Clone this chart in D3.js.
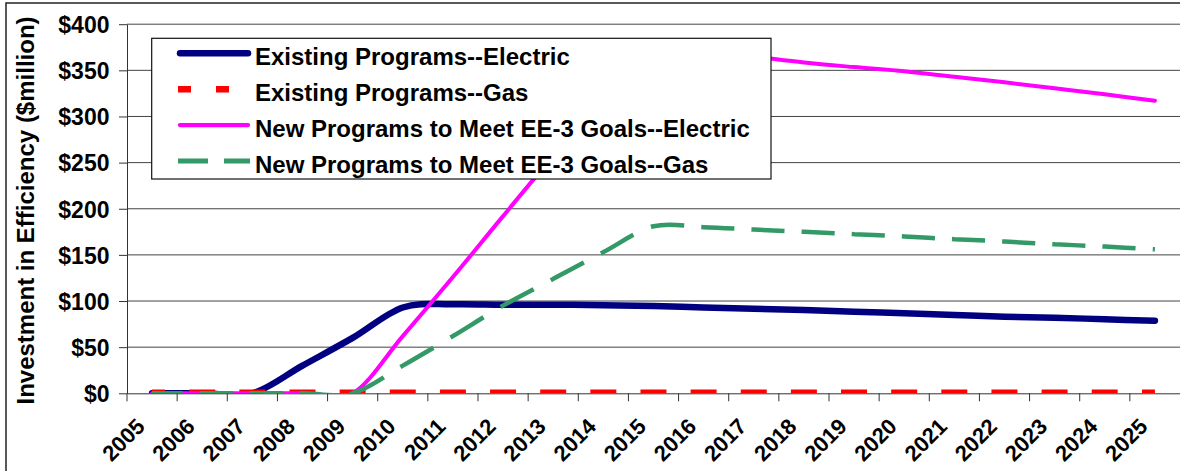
<!DOCTYPE html>
<html><head><meta charset="utf-8">
<script src="https://cdn.jsdelivr.net/npm/d3@7"></script>
<style>
html,body{margin:0;padding:0;background:#fff;}
svg{display:block;font-family:"Liberation Sans",Arial,sans-serif;font-weight:bold;}
</style></head><body>
<svg id="chart" width="1180" height="471"></svg>
<script>
const years = ["2005","2006","2007","2008","2009","2010","2011","2012","2013","2014","2015","2016","2017","2018","2019","2020","2021","2022","2023","2024","2025"];
const existingElectric = [0,0,0,30,60,93,96.5,96,96,95.5,94.5,93,91.7,90.2,88.4,86.7,84.8,83,82,80.2,78.7];
const existingGas = [1.8,1.8,1.8,1.8,1.8,1.8,1.8,1.8,1.8,1.8,1.8,1.8,1.8,1.8,1.8,1.8,1.8,1.8,1.8,1.8,1.8];
const newElectric = [0,0,0,0,0,62,126,192,257,318,372,371,365,358.5,353.5,349,343,337,330.5,324,317];
const newGas = [0,0,0,0,0,30,62,95,124,153,181,180,177.5,175,172.5,170,167,164.5,161.5,159,156];
const yTicks = [0,50,100,150,200,250,300,350,400];
const seriesNames = ["Existing Programs--Electric","Existing Programs--Gas","New Programs to Meet EE-3 Goals--Electric","New Programs to Meet EE-3 Goals--Gas"];
const seriesColors = ["#000080","#ff0000","#ff00ff","#339966"];
const yTitle = "Investment in Efficiency ($million)";

const W = 1180, H = 471;
const svg = d3.select("#chart");
svg.append("rect").attr("width", W).attr("height", H).attr("fill", "#fff");
svg.append("rect").attr("x", 6).attr("y", 3).attr("width", W).attr("height", H)
  .attr("fill", "none").attr("stroke", "#222").attr("stroke-width", 1.5);

const x = d3.scaleBand().domain(years).range([127, 1180]).padding(0);
const y = d3.scaleLinear().domain([0, 400]).range([393.3, 24.2]);
const cx = d => x(d) + x.bandwidth() / 2;
const [x0, x1] = x.range();

// gridlines
svg.append("g").selectAll("line").data(yTicks.filter(v => v > 0)).join("line")
  .attr("x1", x0).attr("x2", x1).attr("y1", d => y(d)).attr("y2", d => y(d))
  .attr("stroke", "#444").attr("stroke-width", 1);

// y axis
const yAxis = svg.append("g").attr("transform", `translate(${x0},0)`)
  .call(d3.axisLeft(y).tickValues(yTicks).tickSize(8).tickSizeOuter(0).tickPadding(9.5).tickFormat(d => "$" + d));
yAxis.select(".domain").attr("stroke", "#333");
yAxis.selectAll(".tick line").attr("stroke", "#333");
yAxis.selectAll("text").attr("font-size", 23).attr("font-family", "Liberation Sans, Arial, sans-serif")
  .attr("font-weight", "bold").attr("fill", "#000").attr("dy", "0.36em");

// x axis (labels at category centres, tick marks at category boundaries)
const xAxis = svg.append("g").attr("transform", `translate(0,${y(0)})`)
  .call(d3.axisBottom(x).tickSize(0).tickSizeOuter(0));
xAxis.select(".domain").attr("stroke", "#333");
xAxis.selectAll("text").attr("font-size", 22).attr("font-family", "Liberation Sans, Arial, sans-serif")
  .attr("font-weight", "bold").attr("fill", "#000")
  .attr("text-anchor", "end").attr("y", 0).attr("dy", 0)
  .attr("transform", "translate(-6,34.5) rotate(-45)");
svg.append("g").selectAll("line").data(years).join("line")
  .attr("x1", d => x(d)).attr("x2", d => x(d)).attr("y1", y(0)).attr("y2", y(0) + 8)
  .attr("stroke", "#333").attr("stroke-width", 1);

// y title
svg.append("text").attr("transform", `translate(33.5,210.5) rotate(-90)`)
  .attr("text-anchor", "middle").attr("font-size", 24).attr("fill", "#000").text(yTitle);

// clip
svg.append("clipPath").attr("id", "plotclip").append("rect")
  .attr("x", x0).attr("y", y(400) - 2).attr("width", x1 - x0).attr("height", y(0) - y(400) + 2);

const line = d3.line().x((d, i) => cx(years[i])).y(d => y(d)).curve(d3.curveCardinal.tension(0));
const plot = svg.append("g").attr("clip-path", "url(#plotclip)");

function segLengths(node, vals) {
  const total = node.getTotalLength();
  const pos = years.map(yr => {
    const tx = cx(yr);
    let lo = 0, hi = total;
    for (let k = 0; k < 40; k++) {
      const mid = (lo + hi) / 2;
      if (node.getPointAtLength(mid).x < tx) lo = mid; else hi = mid;
    }
    return (lo + hi) / 2;
  });
  pos[0] = 0; pos[pos.length - 1] = total;
  const segs = [];
  for (let i = 1; i < pos.length; i++) segs.push(pos[i] - pos[i - 1]);
  return segs;
}

const series = [
  {vals: existingElectric, color: seriesColors[0], w: 6.5, type: "solid"},
  {vals: existingGas, color: seriesColors[1], w: 4.5, type: "red"},
  {vals: newElectric, color: seriesColors[2], w: 4, type: "solid"},
  {vals: newGas, color: seriesColors[3], w: 4.5, type: "green"}
];
series.forEach(s => {
  const p = plot.append("path").attr("d", line(s.vals)).attr("fill", "none")
    .attr("stroke", s.color).attr("stroke-width", s.w);
  if (s.type === "solid") {
    p.attr("stroke-linecap", "round").attr("stroke-linejoin", "round");
  } else {
    const segs = segLengths(p.node(), s.vals);
    let arr = [];
    segs.forEach(L => {
      if (s.type === "red") arr.push(13, Math.max(L - 26, 0), 13, 0);
      else arr.push(0.61 * L, 0.34 * L, 0.05 * L, 0);
    });
    p.attr("stroke-dasharray", arr.map(v => v.toFixed(2)).join(" ")).attr("stroke-linecap", "butt");
  }
});

// legend
const lg = svg.append("g");
lg.append("rect").attr("x", 151.7).attr("y", 38.3).attr("width", 619.3).attr("height", 140.7)
  .attr("fill", "#fff").attr("stroke", "#111").attr("stroke-width", 1.2);
const legendStyles = [
  {w: 6.5, dash: null, cap: "round"},
  {w: 6.5, dash: "13 25", cap: "butt"},
  {w: 4.3, dash: null, cap: "round"},
  {w: 5, dash: "30 16", cap: "butt"}
];
seriesNames.forEach((name, i) => {
  const ry = 53.3 + i * 35.9;
  const st = legendStyles[i];
  const l = lg.append("line").attr("x1", i === 1 || i === 3 ? 178 : 180).attr("x2", i === 1 || i === 3 ? 250 : 248)
    .attr("y1", ry).attr("y2", ry).attr("stroke", seriesColors[i]).attr("stroke-width", st.w)
    .attr("stroke-linecap", st.cap);
  if (st.dash) l.attr("stroke-dasharray", st.dash);
  lg.append("text").attr("x", 255).attr("y", ry + 11.7).attr("font-size", 24).attr("fill", "#000").text(name);
});
</script>
</body></html>
